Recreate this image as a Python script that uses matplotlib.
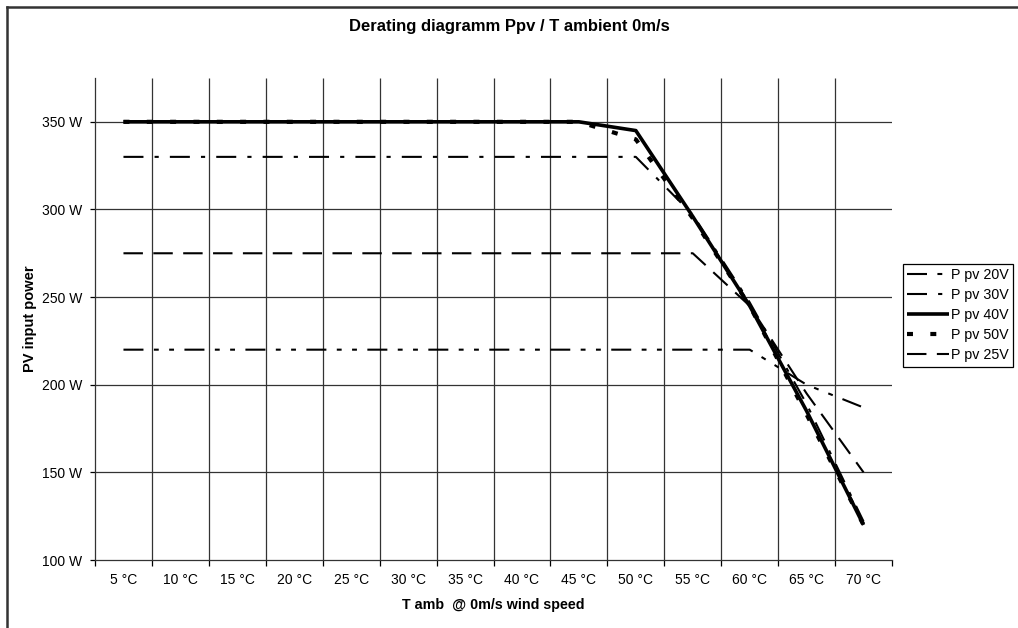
import numpy as np
import matplotlib
matplotlib.use('Agg')
import matplotlib.pyplot as plt
from matplotlib.lines import Line2D

plt.rcParams['font.family'] = ['Liberation Sans', 'DejaVu Sans']
plt.rcParams['lines.scale_dashes'] = False

# categories on the x axis
temps = ['5 °C', '10 °C', '15 °C', '20 °C', '25 °C', '30 °C', '35 °C',
         '40 °C', '45 °C', '50 °C', '55 °C', '60 °C', '65 °C', '70 °C']

# PV input power (W) per string voltage
p20 = [220, 220, 220, 220, 220, 220, 220, 220, 220, 220, 220, 220, 200, 187]
p30 = [330, 330, 330, 330, 330, 330, 330, 330, 330, 330, 297, 247, 189, 122]
p40 = [350, 350, 350, 350, 350, 350, 350, 350, 350, 345, 296, 245, 185, 120]
p50 = [350, 350, 350, 350, 350, 350, 350, 350, 350, 340, 295, 245, 183, 120]
p25 = [275, 275, 275, 275, 275, 275, 275, 275, 275, 275, 275, 245, 195, 150]

yticks = [100, 150, 200, 250, 300, 350]

x = np.arange(len(temps))

fig = plt.figure(figsize=(10.18, 6.28), dpi=100)
ax = fig.add_axes([95/1018, 68/628, 797/1018, 482/628])

# grid (excel style: vertical lines between categories)
ax.vlines(x[:-1] + 0.5, 100, 375, color='#333333', lw=0.9, zorder=1)
for yv in yticks[1:]:
    ax.axhline(yv, color='#333333', lw=0.9, zorder=1)

ax.plot(x, p20, color='black', lw=1.5, dashes=(14.4, 7.5, 3.5, 7.5, 3.5, 7.5),
        solid_capstyle='butt', dash_capstyle='butt', label='P pv 20V', zorder=3)
ax.plot(x, p30, color='black', lw=1.5, dashes=(14.4, 8, 3, 8),
        dash_capstyle='butt', label='P pv 30V', zorder=3)
ax.plot(x, p40, color='black', lw=2.6, solid_capstyle='butt',
        label='P pv 40V', zorder=4)
ax.plot(x, p50, color='black', lw=3.0, dashes=(4.3, 12.5),
        dash_capstyle='butt', label='P pv 50V', zorder=5)
ax.plot(x, p25, color='black', lw=1.5, dashes=(14, 7.5),
        dash_capstyle='butt', label='P pv 25V', zorder=3)

ax.set_xlim(-0.5, len(temps) - 0.5)
ax.set_ylim(100, 375)

ax.set_xticks(np.arange(-0.5, len(temps)), minor=False)
ax.set_xticklabels([])
ax.set_xticks(x, minor=True)
ax.set_xticklabels(temps, minor=True)
ax.tick_params(axis='x', which='major', direction='out', length=4.5, width=0.9)
ax.tick_params(axis='x', which='minor', length=0, pad=9, labelsize=10)

ax.set_yticks(yticks)
ax.set_yticklabels([str(v) + ' W' for v in yticks])
ax.tick_params(axis='y', direction='out', length=3.5, width=0.9, pad=5.5, labelsize=10)

for s in ['top', 'right']:
    ax.spines[s].set_visible(False)
for s in ['left', 'bottom']:
    ax.spines[s].set_color('#333333')
    ax.spines[s].set_linewidth(0.9)

ax.set_xlabel('T amb  @ 0m/s wind speed', fontsize=10.3, fontweight='bold', va='center')
ax.xaxis.set_label_coords(0.5, -45/482)
ax.set_ylabel('PV input power', fontsize=10.5, fontweight='bold', va='center')
ax.yaxis.set_label_coords(-65/797, 0.5)

fig.text(0.5, 1 - 27/628, 'Derating diagramm Ppv / T ambient 0m/s',
         ha='center', va='center', fontsize=12, fontweight='bold')

leg = fig.legend(loc='upper left', bbox_to_anchor=(903/1018, 1 - 264/628),
                 fontsize=10.3, handlelength=2.9, handletextpad=0.15,
                 labelspacing=0.42, borderpad=0.3, borderaxespad=0,
                 fancybox=False, framealpha=1, edgecolor='black')
leg.get_frame().set_linewidth(0.9)

# outer chart frame (left and top edges only visible)
fig.add_artist(Line2D([7/1018, 7/1018], [0, 1 - 7/628], color='#333333', lw=1.8,
                      transform=fig.transFigure))
fig.add_artist(Line2D([7/1018, 1], [1 - 7/628, 1 - 7/628], color='#333333', lw=1.8,
                      transform=fig.transFigure))

plt.savefig('out.png', dpi=100)
